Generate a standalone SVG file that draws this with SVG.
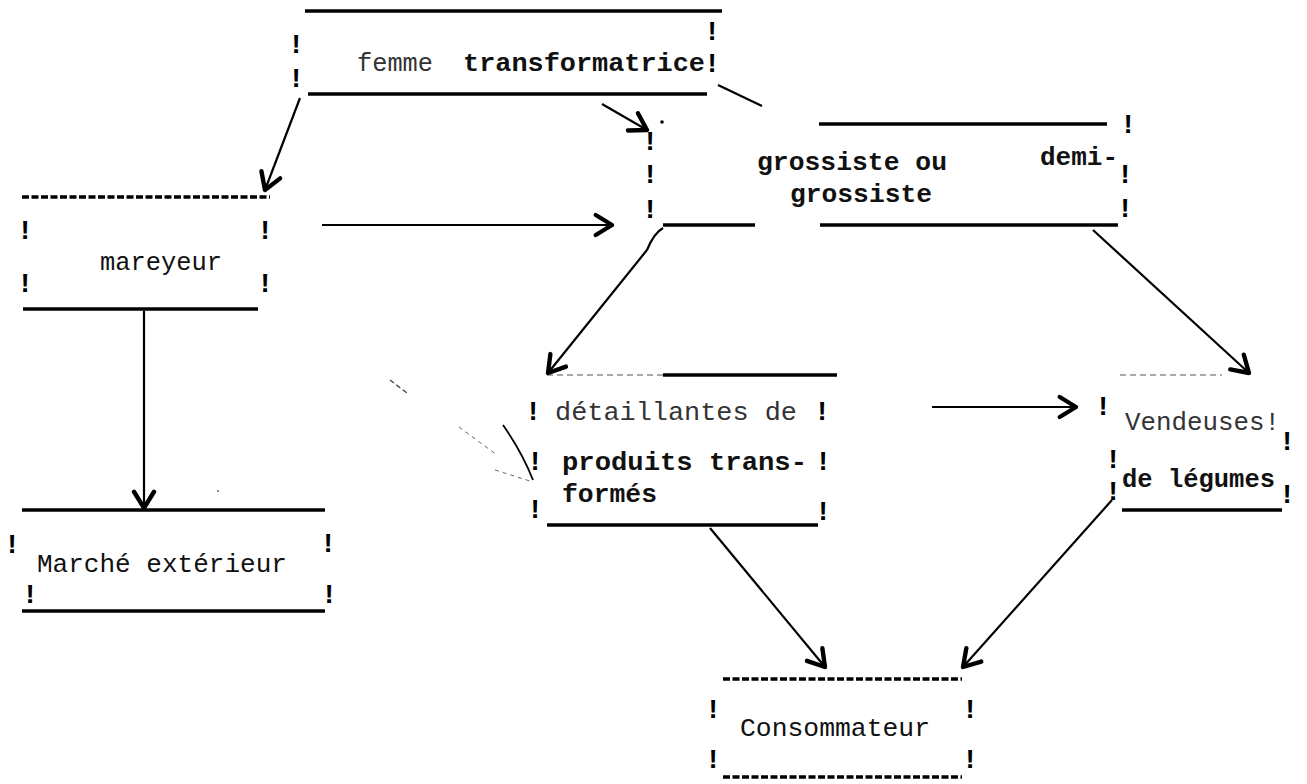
<svg xmlns="http://www.w3.org/2000/svg" width="1307" height="784" viewBox="0 0 1307 784">
<defs>
<marker id="chev" markerUnits="userSpaceOnUse" markerWidth="30" markerHeight="30" refX="0" refY="0" viewBox="-16 -12 20 24" orient="auto" overflow="visible">
<path d="M-13,-8 L0,0 L-13,8" fill="none" stroke="#000" stroke-width="3.5" stroke-linecap="round" stroke-linejoin="round"/>
</marker>
<style>
.t{font-family:"Liberation Mono","DejaVu Sans Mono",monospace;font-size:25px;fill:#111}
.b{font-weight:bold}
.lt{fill:#333}
.ex{font-family:"Liberation Mono","DejaVu Sans Mono",monospace;font-size:27px;font-weight:bold;fill:#000;text-anchor:middle}
.ln{stroke:#000;stroke-width:3.5;fill:none}
.dl{stroke:#000;stroke-width:3.5;fill:none;stroke-dasharray:7 2.5}
.fn{stroke:#555;stroke-width:1.2;fill:none;stroke-dasharray:6 4}
.c{stroke:#000;stroke-width:2.2;fill:none;marker-end:url(#chev)}
</style>
</defs>
<rect width="1307" height="784" fill="#fff"/>

<g id="femme">
<line class="ln" x1="305" y1="11" x2="722" y2="11"/>
<line class="ln" x1="308" y1="94" x2="707" y2="94" stroke-width="4.5"/>
<text class="t lt" x="357" y="71" textLength="76" lengthAdjust="spacingAndGlyphs">femme</text>
<text class="t b" x="463" y="71" textLength="242" lengthAdjust="spacingAndGlyphs">transformatrice</text>
<text class="ex" x="296" y="53">!</text><text class="ex" x="296" y="87">!</text>
<text class="ex" x="712" y="40">!</text><text class="ex" x="712" y="72">!</text>
</g>

<g id="mareyeur">
<line class="dl" x1="22" y1="197" x2="270" y2="197"/>
<line class="ln" x1="23" y1="309" x2="258" y2="309"/>
<text class="t" x="100" y="270" textLength="122" lengthAdjust="spacingAndGlyphs">mareyeur</text>
<text class="ex" x="25" y="239">!</text><text class="ex" x="25" y="292">!</text>
<text class="ex" x="265" y="239">!</text><text class="ex" x="265" y="292">!</text>
</g>

<g id="marche">
<line class="ln" x1="22" y1="510" x2="325" y2="510"/>
<line class="ln" x1="22" y1="611" x2="325" y2="611"/>
<text class="t" x="37" y="572" textLength="250" lengthAdjust="spacingAndGlyphs">Marché extérieur</text>
<text class="ex" x="12" y="553">!</text><text class="ex" x="328" y="552">!</text>
<text class="ex" x="30" y="603">!</text><text class="ex" x="329" y="603">!</text>
</g>

<g id="grossiste">
<line class="ln" x1="819" y1="124" x2="1107" y2="124"/>
<line class="ln" x1="663" y1="225" x2="755" y2="225"/>
<line class="ln" x1="820" y1="225" x2="1118" y2="225"/>
<text class="t b" x="757" y="170" textLength="190" lengthAdjust="spacingAndGlyphs">grossiste ou</text>
<text class="t b" x="1040" y="165" textLength="78" lengthAdjust="spacingAndGlyphs">demi-</text>
<text class="t b" x="790" y="202" textLength="142" lengthAdjust="spacingAndGlyphs">grossiste</text>
<text class="ex" x="650" y="150">!</text><text class="ex" x="650" y="183">!</text><text class="ex" x="650" y="218">!</text>
<text class="ex" x="1128" y="133">!</text><text class="ex" x="1125" y="183">!</text><text class="ex" x="1125" y="217">!</text>
</g>

<g id="detaillantes">
<line class="fn" x1="547" y1="375" x2="663" y2="375"/>
<line class="ln" x1="663" y1="375" x2="837" y2="375"/>
<line class="ln" x1="547" y1="525" x2="818" y2="525" stroke-width="2.5"/>
<text class="t lt" x="555" y="420" textLength="242" lengthAdjust="spacingAndGlyphs">détaillantes de</text>
<text class="t b" x="562" y="470" textLength="245" lengthAdjust="spacingAndGlyphs">produits trans-</text>
<text class="t b" x="562" y="502" textLength="95" lengthAdjust="spacingAndGlyphs">formés</text>
<text class="ex" x="533" y="420">!</text><text class="ex" x="822" y="420">!</text>
<text class="ex" x="535" y="470">!</text><text class="ex" x="823" y="470">!</text>
<text class="ex" x="535" y="518">!</text><text class="ex" x="823" y="520">!</text>
</g>

<g id="vendeuses">
<line class="fn" x1="1120" y1="375" x2="1222" y2="375"/>
<line class="ln" x1="1122" y1="510" x2="1282" y2="510"/>
<text class="t lt" x="1125" y="430" textLength="155" lengthAdjust="spacingAndGlyphs">Vendeuses!</text>
<text class="t b" x="1122" y="487" textLength="153" lengthAdjust="spacingAndGlyphs">de légumes</text>
<text class="ex" x="1103" y="415">!</text>
<text class="ex" x="1113" y="468">!</text><text class="ex" x="1113" y="500">!</text>
<text class="ex" x="1287" y="450">!</text><text class="ex" x="1287" y="503">!</text>
</g>

<g id="consommateur">
<line class="dl" x1="723" y1="679" x2="962" y2="679"/>
<line class="dl" x1="723" y1="777" x2="962" y2="777"/>
<text class="t" x="740" y="736" textLength="190" lengthAdjust="spacingAndGlyphs">Consommateur</text>
<text class="ex" x="713" y="718">!</text><text class="ex" x="970" y="718">!</text>
<text class="ex" x="713" y="768">!</text><text class="ex" x="970" y="768">!</text>
</g>

<g id="connectors">
<path class="c" d="M300,98 L265,190"/>
<path class="c" d="M602,104 L647,130"/>
<path class="c" d="M322,225 L612,225"/>
<path class="c" d="M144,311 L144,508"/>
<path class="c" d="M663,228 Q654,233 647,250 L548,373"/>
<path class="c" d="M1093,230 L1249,373"/>
<path class="c" d="M932,407 L1076,407"/>
<path class="c" d="M710,528 L825,667"/>
<path class="c" d="M1112,500 L963,667"/>
<line x1="718" y1="85" x2="762" y2="106" stroke="#000" stroke-width="2.2"/>
</g>

<g id="marks">
<circle cx="662" cy="122" r="1.8" fill="#000"/>
<line x1="390" y1="380" x2="407" y2="393" stroke="#444" stroke-width="1.3" stroke-dasharray="5 3"/>
<path d="M503,425 Q522,452 533,480" stroke="#000" stroke-width="1.8" fill="none"/>
<line x1="459" y1="427" x2="497" y2="455" stroke="#666" stroke-width="1" stroke-dasharray="4 4"/>
<line x1="495" y1="470" x2="533" y2="482" stroke="#666" stroke-width="1" stroke-dasharray="4 4"/>
<circle cx="218" cy="491" r="1" fill="#666"/>
</g>
</svg>
